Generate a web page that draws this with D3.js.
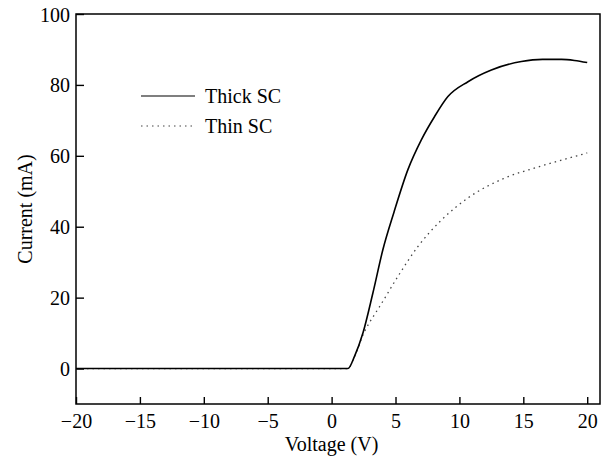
<!DOCTYPE html>
<html>
<head>
<meta charset="utf-8">
<script src="https://cdn.jsdelivr.net/npm/d3@7"></script>
<style>
  body { margin: 0; background: #fff; }
  text { font-family: "Liberation Serif", "Times New Roman", serif; fill: #000; }
</style>
</head>
<body>
<div id="chart"></div>
<script>
// data
var thickX = [-20, 1.28, 1.8, 2.45, 3.23, 4.01, 4.88, 5.97, 7.02, 8.06, 9.1, 10.67, 12.5, 14.85, 16.5, 18, 19, 20];
var thickY = [0, 0, 3.5, 10, 21.3, 33.5, 44.1, 56.1, 64.5, 71.1, 76.7, 80.9, 84.2, 86.6, 87.2, 87.2, 86.9, 86.3];
var thinX = [-20, 1.28, 1.8, 2.58, 2.97, 3.76, 5.19, 6.75, 8.6, 10.7, 13.4, 16.3, 19.8, 20];
var thinY = [0, 0, 3.5, 10.5, 13, 17.5, 26, 34.4, 41.9, 48.2, 53.5, 57, 60.6, 60.8];
var xTicks = [-20, -15, -10, -5, 0, 5, 10, 15, 20];
var yTicks = [0, 20, 40, 60, 80, 100];
var seriesNames = ["Thick SC", "Thin SC"];

var width = 610, height = 461;
var margin = { top: 14, right: 10, bottom: 57, left: 76 };

var svg = d3.select("#chart")
    .append("svg")
    .attr("width", width)
    .attr("height", height);

var x = d3.scaleLinear().domain([-20, 21]).range([margin.left, width - margin.right]);
var y = d3.scaleLinear().domain([-10, 100]).range([height - margin.bottom, margin.top]);

var fmt = function (d) { return d < 0 ? "\u2212" + Math.abs(d) : d; };

// axes with inward ticks
var xAxis = svg.append("g")
    .attr("transform", "translate(0," + y(-10) + ")")
    .call(d3.axisBottom(x).tickValues(xTicks).tickSizeInner(-7).tickSizeOuter(0).tickPadding(24).tickFormat(fmt));
var yAxis = svg.append("g")
    .attr("transform", "translate(" + x(-20) + ",0)")
    .call(d3.axisLeft(y).tickValues(yTicks).tickSizeInner(-8).tickSizeOuter(0).tickPadding(6).tickFormat(fmt));

[xAxis, yAxis].forEach(function (g) {
    g.select(".domain").remove();
    g.selectAll(".tick line").attr("stroke", "#000").attr("stroke-width", 1.4);
    g.selectAll(".tick text").style("font-size", "20px").style("font-family", "Liberation Serif");
});
xAxis.selectAll(".tick text").attr("dy", "0");
yAxis.selectAll(".tick text").attr("dy", "0.35em");

// frame
svg.append("rect")
    .attr("x", x(-20))
    .attr("y", y(100))
    .attr("width", x(21) - x(-20))
    .attr("height", y(-10) - y(100))
    .attr("fill", "none")
    .attr("stroke", "#000")
    .attr("stroke-width", 1.5);

var line = d3.line()
    .x(function (d) { return x(d[0]); })
    .y(function (d) { return y(d[1]); })
    .curve(d3.curveMonotoneX);

svg.append("path")
    .datum(d3.zip(thinX, thinY))
    .attr("d", line)
    .attr("fill", "none")
    .attr("stroke", "#444")
    .attr("stroke-width", 1.3)
    .attr("stroke-dasharray", "1.5,4");

svg.append("path")
    .datum(d3.zip(thickX, thickY))
    .attr("d", line)
    .attr("fill", "none")
    .attr("stroke", "#000")
    .attr("stroke-width", 1.6);

// legend
var legend = svg.append("g");
seriesNames.forEach(function (name, i) {
    var ly = 96 + i * 30;
    legend.append("line")
        .attr("x1", 141).attr("x2", 195)
        .attr("y1", ly).attr("y2", ly)
        .attr("stroke", i === 0 ? "#000" : "#444")
        .attr("stroke-width", 1.2)
        .attr("stroke-dasharray", i === 0 ? null : "1.5,4");
    legend.append("text")
        .attr("x", 205)
        .attr("y", ly + 7)
        .style("font-size", "20px")
        .text(name);
});

// axis titles
svg.append("text")
    .attr("x", x(0))
    .attr("y", 451)
    .attr("text-anchor", "middle")
    .style("font-size", "20px")
    .text("Voltage (V)");

svg.append("text")
    .attr("transform", "translate(32," + y(45) + ") rotate(-90)")
    .attr("text-anchor", "middle")
    .style("font-size", "20px")
    .text("Current (mA)");
</script>
</body>
</html>
